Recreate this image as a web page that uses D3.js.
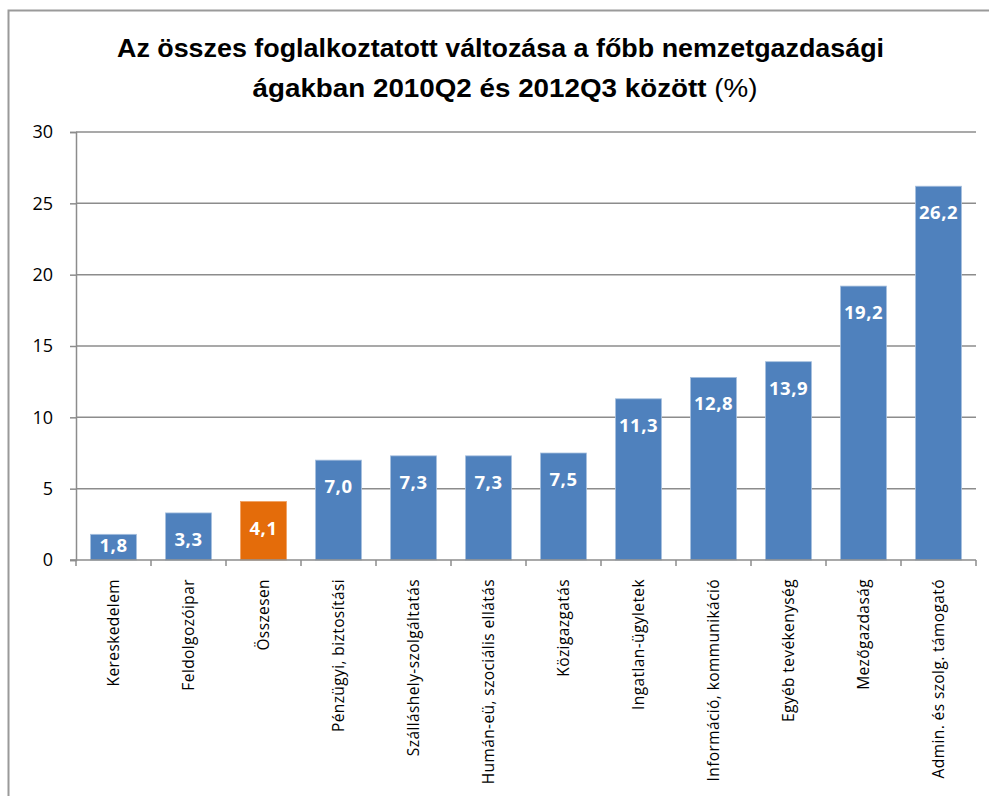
<!DOCTYPE html>
<html><head><meta charset="utf-8">
<script src="https://cdn.jsdelivr.net/npm/d3@7/dist/d3.min.js"></script>
<style>body{margin:0;background:#fff}svg{display:block}</style>
</head><body>
<svg id="c" width="989" height="796"></svg>
<script>
const categories = ["Kereskedelem","Feldolgozóipar","Összesen","Pénzügyi, biztosítási","Szálláshely-szolgáltatás","Humán-eü, szociális ellátás","Közigazgatás","Ingatlan-ügyletek","Információ, kommunikáció","Egyéb tevékenység","Mezőgazdaság","Admin. és szolg. támogató"];
const values = [1.8,3.3,4.1,7.0,7.3,7.3,7.5,11.3,12.8,13.9,19.2,26.2];
const highlight = ["Összesen"];
const yTicks = [0,5,10,15,20,25,30];
const titleLine1 = "Az összes foglalkoztatott változása a főbb nemzetgazdasági";
const titleLine2Bold = "ágakban 2010Q2 és 2012Q3 között";
const titleLine2Rest = " (%)";

const svg = d3.select("#c");
const m = {left:76, right:976, top:132, bottom:560};
const sans = "'Open Sans','Liberation Sans',sans-serif";

// outer frame
svg.append("rect").attr("x",8.5).attr("y",10.5).attr("width",1000).attr("height",1000)
  .attr("fill","none").attr("stroke","#9a9a9a").attr("stroke-width",2);

const x = d3.scaleBand().domain(categories).range([m.left,m.right]).paddingInner(0.387).paddingOuter(0.1935);
const y = d3.scaleLinear().domain([0,30]).range([m.bottom,m.top]);

// gridlines
svg.append("g").selectAll("line").data(yTicks.filter(d=>d>0)).join("line")
  .attr("x1",m.left).attr("x2",m.right).attr("y1",d=>y(d)).attr("y2",d=>y(d))
  .attr("stroke","#8c8c8c").attr("stroke-width",1.5);

// y axis
const ya = svg.append("g").attr("transform",`translate(${m.left},0)`)
  .call(d3.axisLeft(y).tickValues(yTicks).tickSize(6).tickPadding(17).tickFormat(d3.format("d")));
ya.select(".domain").attr("stroke","#8c8c8c").attr("stroke-width",1.5);
ya.selectAll(".tick line").attr("stroke","#8c8c8c").attr("stroke-width",1.5);
ya.selectAll(".tick text").attr("font-family",sans).attr("font-size",18).attr("fill","#000");

// bars
svg.append("g").selectAll("rect").data(categories).join("rect")
  .attr("x",d=>x(d)).attr("width",x.bandwidth())
  .attr("y",(d,i)=>y(values[i])).attr("height",(d,i)=>y(0)-y(values[i]))
  .attr("fill",d=>highlight.includes(d)?"#e46c0a":"#4f81bd")
  .attr("stroke",d=>highlight.includes(d)?"#f0a060":"#a7c0de").attr("stroke-width",0.8);

// x axis
const step = x.step();
const bounds = d3.range(categories.length+1).map(i=>m.left + i*step);
svg.append("line").attr("x1",m.left-6).attr("x2",m.right).attr("y1",m.bottom).attr("y2",m.bottom)
  .attr("stroke","#8c8c8c").attr("stroke-width",1.5);
svg.append("g").selectAll("line").data(bounds).join("line")
  .attr("x1",d=>d).attr("x2",d=>d).attr("y1",m.bottom).attr("y2",m.bottom+6)
  .attr("stroke","#8c8c8c").attr("stroke-width",1.5);

// category labels
svg.append("g").selectAll("text").data(categories).join("text")
  .attr("transform",d=>`translate(${x(d)+x.bandwidth()/2+5.5},579) rotate(-90)`)
  .attr("text-anchor","end")
  .attr("font-family",sans).attr("font-size",15.5)
  .attr("letter-spacing",0.4)
  .attr("fill","#000").text(d=>d);

// value labels
const fmt = v => d3.format(".1f")(v).replace(".",",");
svg.append("g").selectAll("text").data(categories).join("text")
  .attr("x",d=>x(d)+x.bandwidth()/2)
  .attr("y",(d,i)=>Math.min(y(values[i])+33, m.bottom-8))
  .attr("text-anchor","middle").attr("font-family",sans)
  .attr("font-weight","bold").attr("font-size",18.5).attr("letter-spacing",0.5).attr("fill","#fff")
  .text((d,i)=>fmt(values[i]));

// title
const tf = "'Liberation Sans Narrow','Arial Narrow','Liberation Sans',sans-serif";
svg.append("text").attr("x",500.5).attr("y",57).attr("text-anchor","middle")
  .attr("font-family",tf).attr("font-weight","bold").attr("font-size",26).attr("fill","#000")
  .attr("textLength",767).attr("lengthAdjust","spacingAndGlyphs").text(titleLine1);
const t2 = svg.append("text").attr("x",505).attr("y",97).attr("text-anchor","middle")
  .attr("font-family",tf).attr("font-size",26).attr("fill","#000")
  .attr("textLength",505).attr("lengthAdjust","spacingAndGlyphs");
t2.append("tspan").attr("font-weight","bold").text(titleLine2Bold);
t2.append("tspan").text(titleLine2Rest);
</script>
</body></html>
